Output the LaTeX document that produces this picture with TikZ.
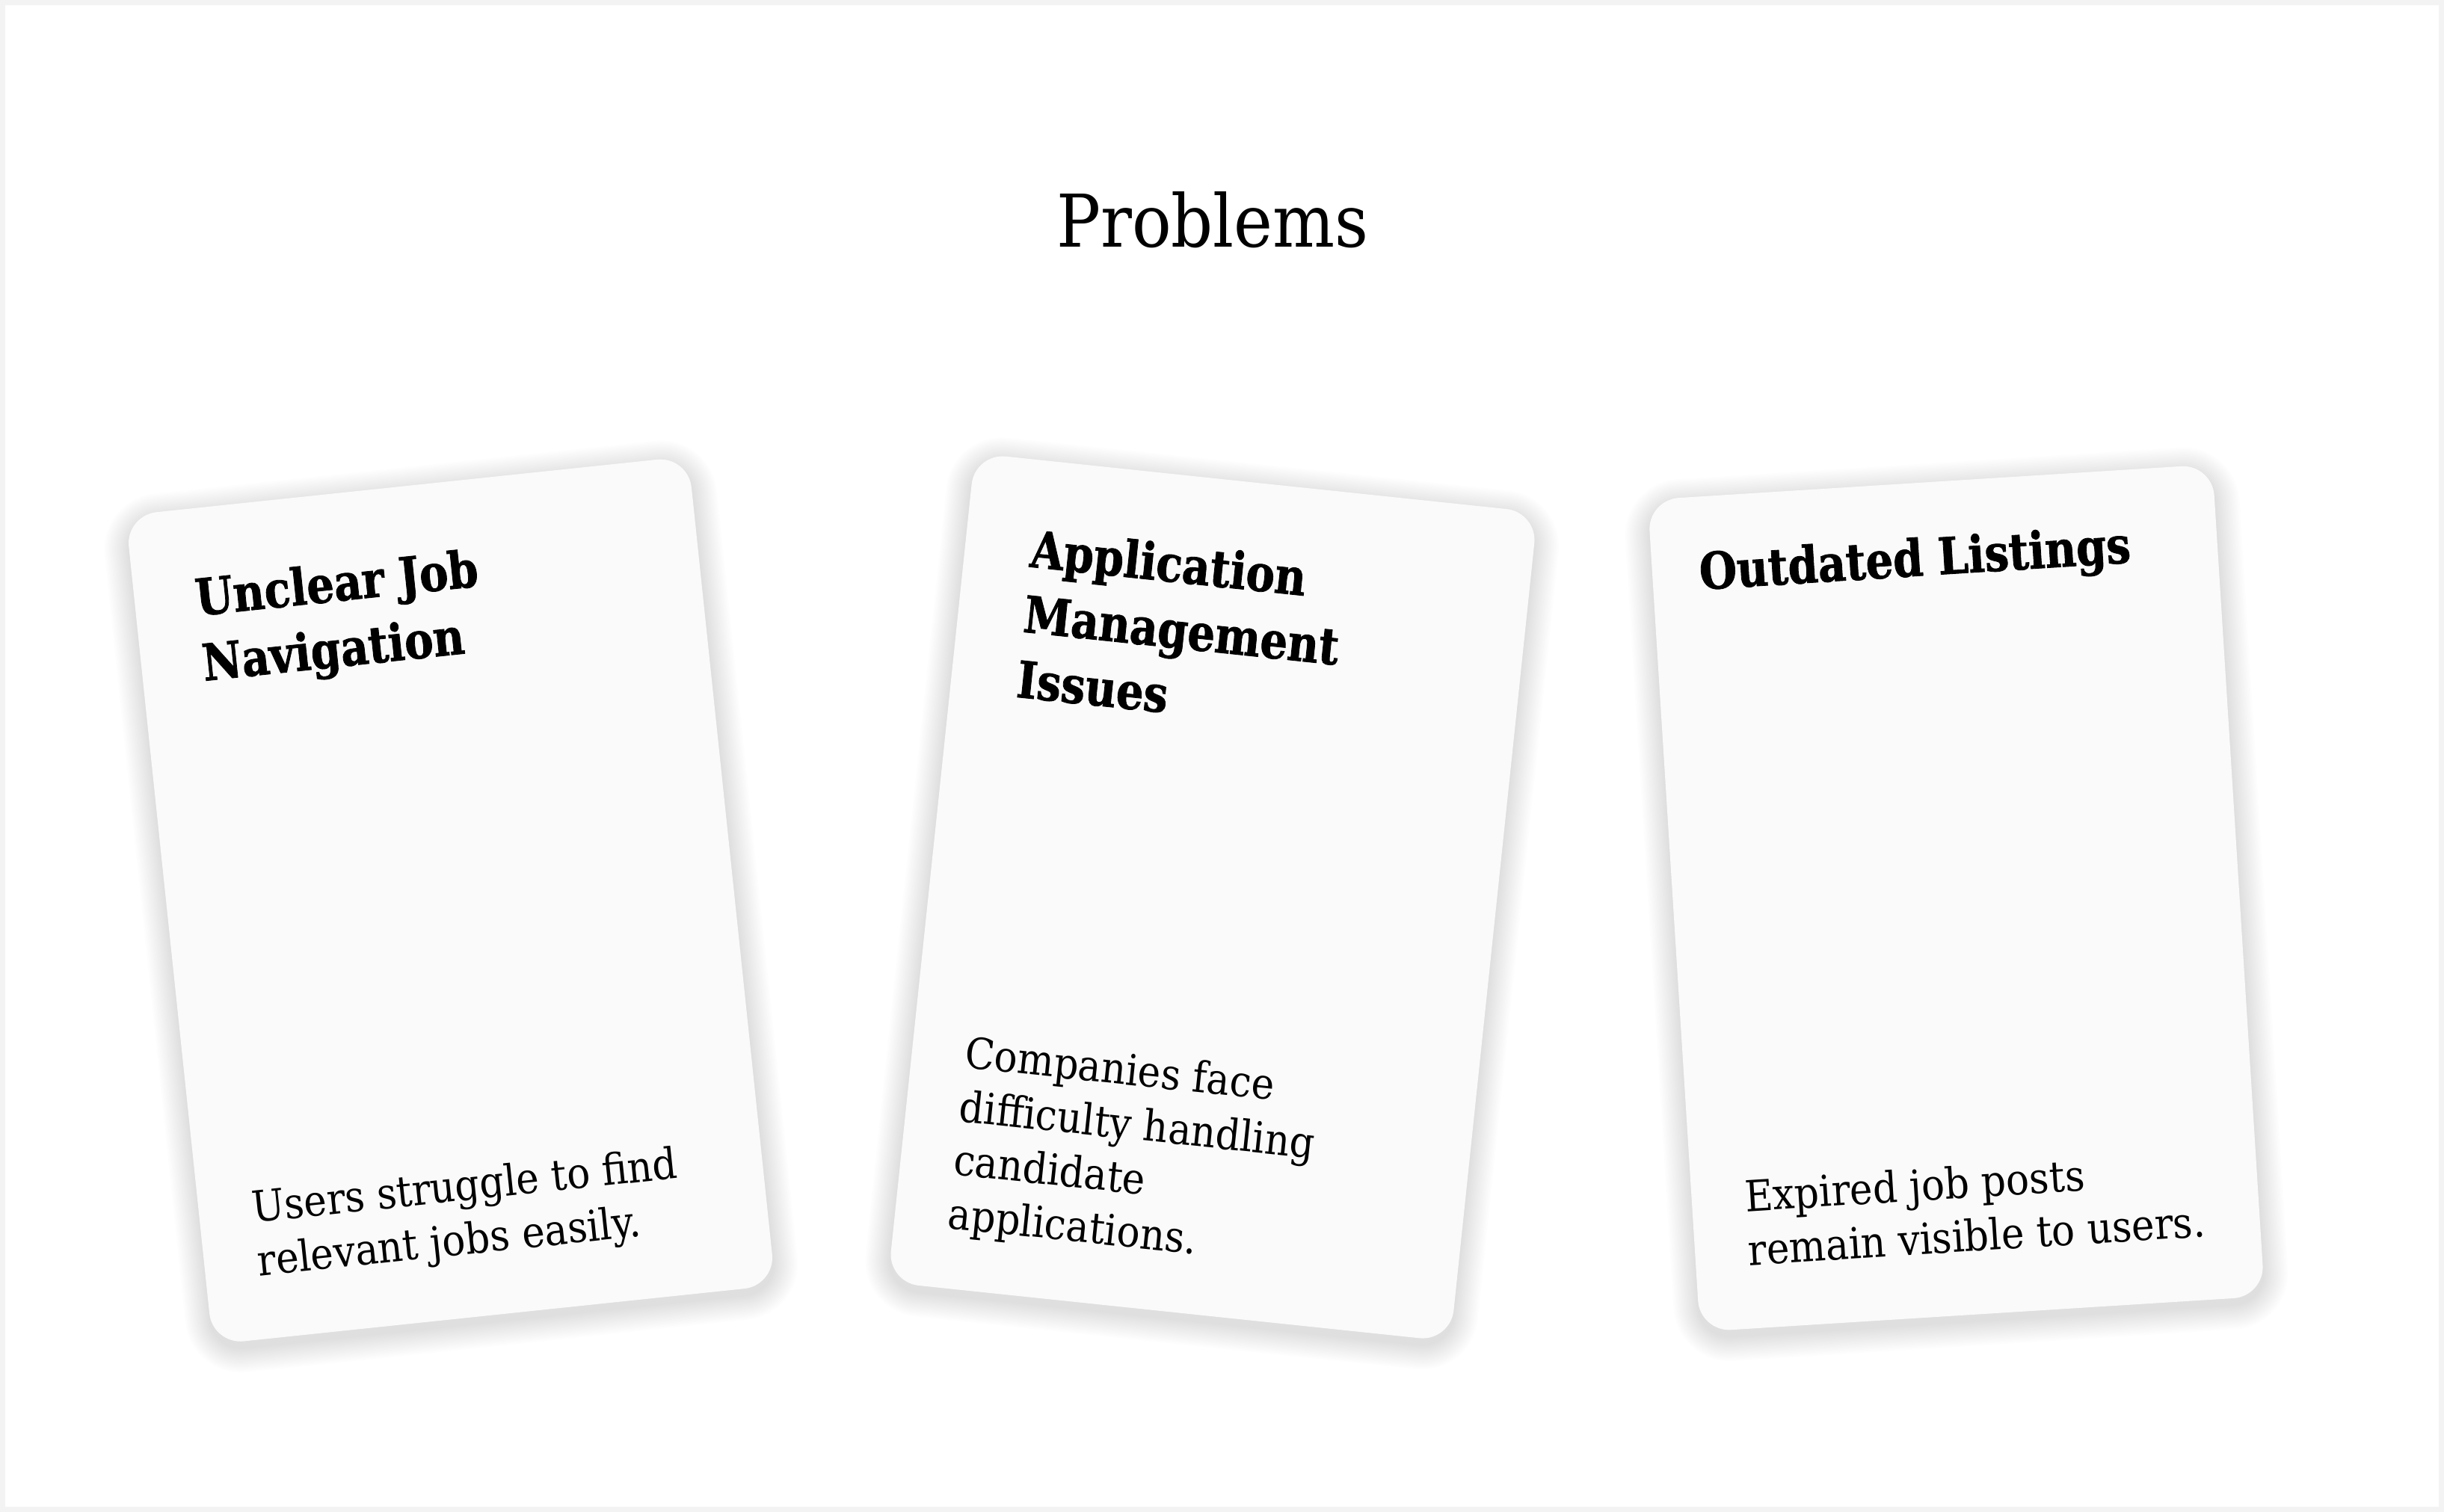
\documentclass[tikz,border=0pt]{standalone}
\usepackage{fontspec}
\setmainfont{DejaVu Serif}[FakeStretch=0.9]
\newfontfamily\cardheadfont{DejaVu Serif}[FakeStretch=0.85,
  BoldFeatures={FakeBold=1.2}]

\definecolor{cardfill}{HTML}{FAFAFA}
\definecolor{framegray}{HTML}{F3F3F3}

\tikzset{
  card/.style={fill=cardfill, rounded corners=20pt, minimum width=363pt,
    minimum height=535pt, inner sep=0pt},
  cardshadow/.style={fill=black, opacity=0.007},
  cardhead/.style={font=\cardheadfont\bfseries\fontsize{32.5}{42}\selectfont,
    align=left, inner sep=0pt, anchor=north west, execute at begin node=\strut},
  cardbody/.style={font=\fontsize{27.5}{34.5}\selectfont, align=left,
    inner sep=0pt, anchor=south west, execute at end node=\strut},
  titletext/.style={font=\fontsize{46.7}{50}\selectfont, inner sep=0pt}
}

\begin{document}
\begin{tikzpicture}[x=1pt,y=1pt]
  \useasboundingbox (0,0) rectangle (1568,970.35);
  \fill[framegray] (0,0) rectangle (1568,970.35);
  \fill[white] (3.5,3.5) rectangle (1564.5,966.85);

  \node[titletext, anchor=base] (title) at (778,812) {Problems};

  % first card
  \begin{scope}[shift={(289,392.5)}, rotate=6, transform shape]
    \foreach \s in {1,...,16}
      \fill[cardshadow, rounded corners={(20+\s)*1pt}]
        ({-181.5-\s},{-267.5-\s-4}) rectangle ({181.5+\s},{267.5+\s-4});
    \node[card] (card1) at (0,0) {};
    \node[cardhead] (head1) at (-142.5,223.5) {Unclear Job\\Navigation};
    \node[cardbody] (body1) at (-147.5,-237.5)
      {Users struggle to find\\relevant jobs easily.};
  \end{scope}

  % second card
  \begin{scope}[shift={(778,394.5)}, rotate=-6, transform shape]
    \foreach \s in {1,...,16}
      \fill[cardshadow, rounded corners={(20+\s)*1pt}]
        ({-181.5-\s},{-267.5-\s-4}) rectangle ({181.5+\s},{267.5+\s-4});
    \node[card] (card2) at (0,0) {};
    \node[cardhead] (head2) at (-139.5,223.5)
      {Application\\Management\\Issues};
    \node[cardbody] (body2) at (-147.5,-239.5)
      {Companies face\\difficulty handling\\candidate\\applications.};
  \end{scope}

  % third card
  \begin{scope}[shift={(1255,394)}, rotate=3.6, transform shape]
    \foreach \s in {1,...,16}
      \fill[cardshadow, rounded corners={(20+\s)*1pt}]
        ({-181.5-\s},{-267.5-\s-4}) rectangle ({181.5+\s},{267.5+\s-4});
    \node[card] (card3) at (0,0) {};
    \node[cardhead] (head3) at (-151.5,237.5) {Outdated Listings};
    \node[cardbody] (body3) at (-147.5,-237.5)
      {Expired job posts\\remain visible to users.};
  \end{scope}
\end{tikzpicture}
\end{document}
